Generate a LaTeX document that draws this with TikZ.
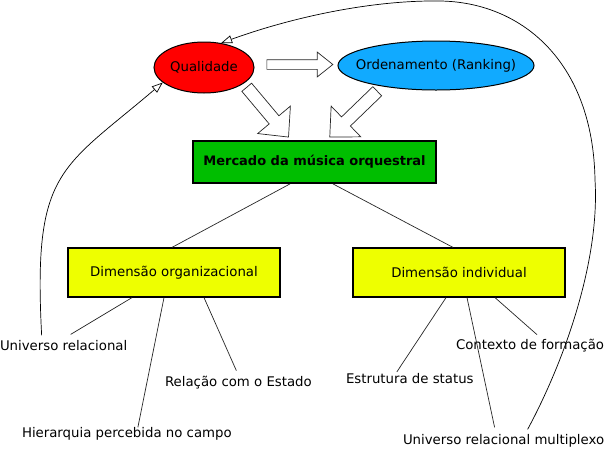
\documentclass[tikz,border=0pt]{standalone}
\usepackage{fontspec}
\setmainfont{DejaVu Sans}
\usepackage{tikz}
\usetikzlibrary{shapes.geometric,shapes.arrows,arrows.meta,calc}
\definecolor{qualred}{RGB}{255,0,0}
\definecolor{ordblue}{RGB}{17,170,255}
\definecolor{mercgreen}{RGB}{0,190,0}
\definecolor{dimyellow}{RGB}{238,255,0}
\tikzset{
oval/.style={ellipse,draw=black,line width=1pt,inner sep=0pt},
mainbox/.style={draw=black,line width=1.8pt,fill=mercgreen,minimum width=243pt,minimum height=42pt,inner sep=0pt,font=\bfseries},
dimbox/.style={draw=black,line width=1.2pt,fill=dimyellow,minimum width=212pt,minimum height=49pt,inner sep=0pt},
leaf/.style={inner sep=0pt,outer sep=0pt,anchor=base west},
link/.style={draw=black!85,line width=0.7pt},
loopline/.style={draw=black,line width=0.7pt,-{Triangle[open,length=11pt,width=8pt]}},
bigarrow/.style={single arrow,draw=black!85,fill=white,line width=0.7pt,inner xsep=0pt,anchor=tail}
}
\newcommand{\ovaltext}[1]{\makebox[0pt]{#1}}

\begin{document}
\begin{tikzpicture}[x=1pt,y=-1pt,every node/.style={font=\fontsize{13.3}{15}\selectfont}]
\useasboundingbox (0,0) rectangle (604,448);
\node[oval,fill=qualred,minimum width=100pt,minimum height=51pt] (qual) at (204,67.5) {\ovaltext{Qualidade}};
\node[oval,fill=ordblue,minimum width=196pt,minimum height=49pt] (orden) at (436,65.5) {\ovaltext{Ordenamento (Ranking)}};
\node[mainbox] (merc) at (314.5,162) {\fontsize{13}{15}\selectfont\bfseries Mercado da música orquestral};
\node[dimbox] (dorg) at (174,272.5) {Dimensão organizacional};
\node[dimbox] (dind) at (459,272.5) {Dimensão individual};

\node[leaf] (urel) at (0,350.5) {Universo relacional};
\node[leaf] (hier) at (22,437.5) {Hierarquia percebida no campo};
\node[leaf] (relest) at (165,386) {Relação com o Estado};
\node[leaf] (estr) at (346,383) {Estrutura de status};
\node[leaf] (cont) at (456,349) {Contexto de formação};
\node[leaf] (umulti) at (403,444.5) {Universo relacional multiplexo};

% block arrows
\node[bigarrow,inner ysep=4.5pt,minimum height=66pt,single arrow head extend=7.5pt,single arrow tip angle=77] (a1) at ([shift={(12,-3)}]qual.east) {};
\node[bigarrow,inner ysep=6pt,minimum height=65pt,single arrow head extend=15pt,single arrow tip angle=87,rotate=-50] (a2) at ([shift={(42.5,19.5)}]qual.center) {};
\node[bigarrow,inner ysep=6pt,minimum height=66pt,single arrow head extend=15pt,single arrow tip angle=87,rotate=-136] (a3) at ([shift={(-58.5,25.5)}]orden.center) {};

\draw[link] ([xshift=-24.5pt]merc.south) -- ([xshift=-2pt]dorg.north);
\draw[link] ([xshift=18.5pt]merc.south) -- ([xshift=-6pt]dind.north);

\draw[link] ([xshift=-42pt]dorg.south) -- ([xshift=7pt,yshift=6pt]urel.north);
\draw[link] ([xshift=-10pt]dorg.south) -- ([xshift=11pt]hier.north);
\draw[link] ([xshift=30pt]dorg.south) -- ([xshift=-2pt,yshift=5pt]relest.north);
\draw[link] ([xshift=-13pt]dind.south) -- ([xshift=-13pt,yshift=1pt]estr.north);
\draw[link] ([xshift=8pt]dind.south) -- ([xshift=-9pt,yshift=7pt]umulti.north);
\draw[link] ([xshift=36pt]dind.south) -- ([xshift=7pt,yshift=4pt]cont.north);

\coordinate (ustart) at ([xshift=-22pt,yshift=5pt]urel.north);
\coordinate (mstart) at ([xshift=24pt,yshift=5pt]umulti.north);
\draw[loopline] (ustart) .. controls (33,170) and (60,170) .. (qual.200);
\draw[loopline] (mstart) .. controls (565,360) and (600,260) .. (595,180)
  .. controls (593,60) and (520,2) .. (440,1)
  .. controls (370,0) and (290,18) .. (qual.55);
\end{tikzpicture}
\end{document}
